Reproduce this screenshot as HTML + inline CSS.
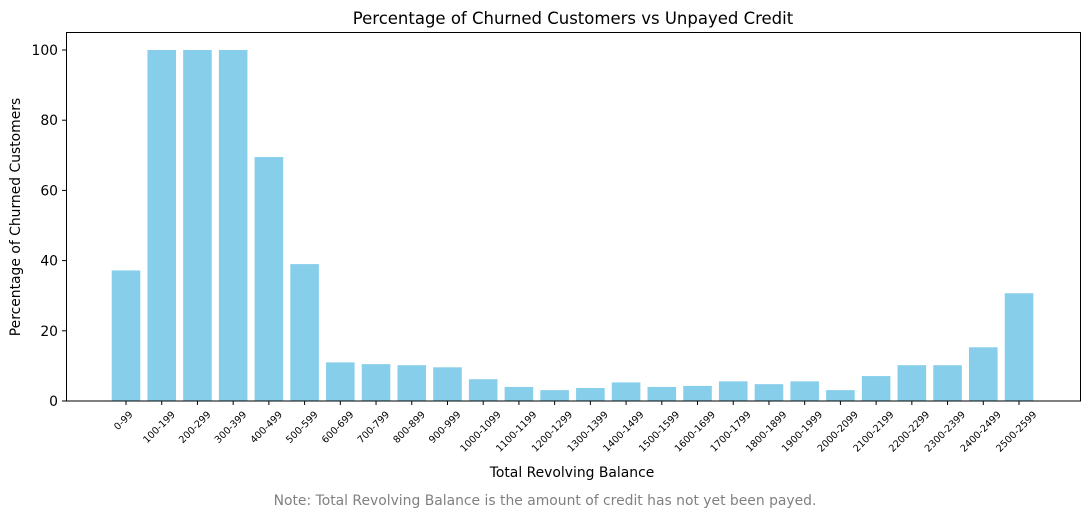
<!DOCTYPE html>
<html><head><meta charset="utf-8"><style>
body{margin:0;background:#fff;font-family:"Liberation Sans","DejaVu Sans",sans-serif;}
</style></head><body>
<svg width="1089" height="518" xmlns="http://www.w3.org/2000/svg" font-family="DejaVu Sans, Liberation Sans, sans-serif">
<text x="573" y="24" font-size="16.5" text-anchor="middle">Percentage of Churned Customers vs Unpayed Credit</text>
<g id="bars"></g>
<g id="xt"></g>
<g id="yt"></g>
<rect x="66.5" y="32.5" width="1014" height="368.5" fill="none" stroke="#000" stroke-width="1"/>
<text x="572" y="477" font-size="13.9" text-anchor="middle">Total Revolving Balance</text>
<text transform="translate(20,217) rotate(-90)" font-size="13.9" text-anchor="middle">Percentage of Churned Customers</text>
<text x="545" y="505" font-size="13.9" fill="#808080" text-anchor="middle">Note: Total Revolving Balance is the amount of credit has not yet been payed.</text>
</svg>
<script>
const categories=["0-99","100-199","200-299","300-399","400-499","500-599","600-699","700-799","800-899","900-999","1000-1099","1100-1199","1200-1299","1300-1399","1400-1499","1500-1599","1600-1699","1700-1799","1800-1899","1900-1999","2000-2099","2100-2199","2200-2299","2300-2399","2400-2499","2500-2599"];
const values=[37.2,100,100,100,69.5,39,11,10.5,10.2,9.6,6.2,4,3.1,3.7,5.3,4,4.3,5.6,4.8,5.6,3.1,7.1,10.2,10.2,15.3,30.7];
const yTicks=[0,20,40,60,80,100];
const NS="http://www.w3.org/2000/svg";
const y0=401,yScale=3.51;
function yPos(v){return y0-v*yScale;}
function xPos(i){return 126+i*(1019-126)/(categories.length-1);}
const bw=0.8*(1019-126)/(categories.length-1);
const bars=document.getElementById('bars'),xt=document.getElementById('xt'),yt=document.getElementById('yt');
values.forEach((v,i)=>{
 const r=document.createElementNS(NS,'rect');
 r.setAttribute('x',xPos(i)-bw/2);r.setAttribute('y',yPos(v));
 r.setAttribute('width',bw);r.setAttribute('height',v*yScale);r.setAttribute('fill','#87ceeb');
 
 
 bars.appendChild(r);
});
categories.forEach((c,i)=>{
 const x=xPos(i);
 const l=document.createElementNS(NS,'line');
 l.setAttribute('x1',x);l.setAttribute('x2',x);l.setAttribute('y1',401);l.setAttribute('y2',405);l.setAttribute('stroke','#000');
 
 
 xt.appendChild(l);
 const w=c.length*6.2*0.7071;
 const t=document.createElementNS(NS,'text');
 t.setAttribute('transform','translate('+(x-2.5)+','+(410+w/2+2)+') rotate(-45)');
 t.setAttribute('font-size','9.7');t.setAttribute('text-anchor','middle');t.setAttribute('dy','3');t.textContent=c;
 
 
 xt.appendChild(t);
});
yTicks.forEach(v=>{
 const y=yPos(v);
 const l=document.createElementNS(NS,'line');
 l.setAttribute('x1',62);l.setAttribute('x2',66.5);l.setAttribute('y1',y);l.setAttribute('y2',y);l.setAttribute('stroke','#000');
 
 
 yt.appendChild(l);
 const t=document.createElementNS(NS,'text');
 t.setAttribute('x',58);t.setAttribute('y',y+5);t.setAttribute('font-size','13.9');t.setAttribute('text-anchor','end');t.textContent=v;
 
 
 yt.appendChild(t);
});
</script>
</body></html>
